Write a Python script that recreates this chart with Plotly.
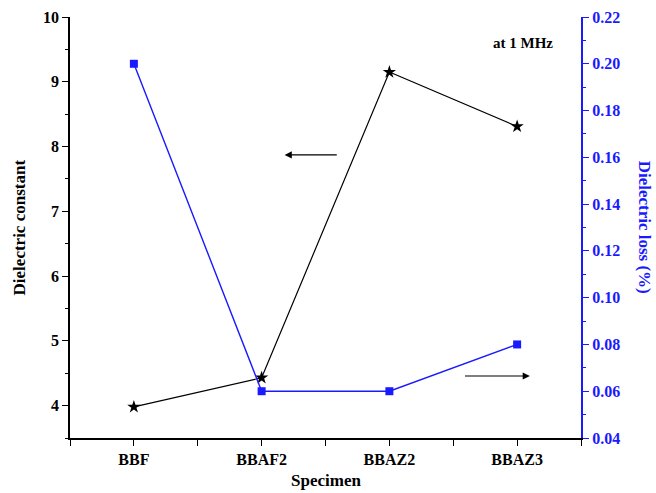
import plotly.graph_objects as go

specimens = ["BBF", "BBAF2", "BBAZ2", "BBAZ3"]
dielectric_constant = [3.98, 4.43, 9.15, 8.31]
dielectric_loss = [0.200, 0.060, 0.060, 0.080]

xpos = list(range(len(specimens)))
FONT = "Liberation Serif"
BLUE = "#1a1aff"

fig = go.Figure()

fig.add_trace(go.Scatter(
    x=xpos, y=dielectric_constant, mode="lines+markers",
    line=dict(color="black", width=1.2),
    marker=dict(symbol="star", size=10, color="black"),
    xaxis="x", yaxis="y", showlegend=False,
))
fig.add_trace(go.Scatter(
    x=xpos, y=dielectric_loss, mode="lines+markers",
    line=dict(color=BLUE, width=1.4),
    marker=dict(symbol="square", size=8, color=BLUE),
    xaxis="x", yaxis="y2", showlegend=False,
))

fig.update_layout(
    width=656, height=493,
    margin=dict(l=70, r=75, t=17, b=55, autoexpand=False),
    paper_bgcolor="white", plot_bgcolor="white",
    font=dict(family=FONT, color="black"),
    xaxis=dict(
        range=[-0.5, 3.5], tickvals=xpos, ticktext=specimens,
        ticks="outside", ticklen=6, tickwidth=1.2, tickcolor="black",
        minor=dict(ticks="outside", ticklen=6, tickwidth=1.2, tickcolor="black",
                   tickvals=[-0.5, 0.5, 1.5, 2.5, 3.5]),
        showline=True, linecolor="black", linewidth=1.5,
        showgrid=False, zeroline=False, automargin=False,
        tickfont=dict(family=FONT, size=16, color="black", weight="bold"),
    ),
    xaxis2=dict(
        overlaying="x", side="top", range=[-0.5, 3.5],
        tickvals=xpos, ticks="inside", ticklen=6, tickwidth=1.2, tickcolor="black",
        minor=dict(ticks="inside", ticklen=4, tickwidth=1.2, tickcolor="black",
                   tickvals=[0.5, 1.5, 2.5]),
        showticklabels=False, showline=True, linecolor="black", linewidth=1.5,
        showgrid=False, zeroline=False, automargin=False,
    ),
    yaxis=dict(
        range=[3.5, 10], tickvals=[4, 5, 6, 7, 8, 9, 10],
        ticks="outside", ticklen=6, tickwidth=1.2, tickcolor="black",
        minor=dict(ticks="outside", ticklen=3, tickwidth=1.2, tickcolor="black", dtick=0.5),
        showline=True, linecolor="black", linewidth=1.5,
        showgrid=False, zeroline=False, automargin=False,
        tickfont=dict(family=FONT, size=16, color="black", weight="bold"),
    ),
    yaxis2=dict(
        overlaying="y", side="right", range=[0.04, 0.22],
        tickvals=[0.04, 0.06, 0.08, 0.10, 0.12, 0.14, 0.16, 0.18, 0.20, 0.22],
        tickformat=".2f",
        ticks="outside", ticklen=6, tickwidth=1.2, tickcolor=BLUE,
        minor=dict(ticks="outside", ticklen=3, tickwidth=1.2, tickcolor=BLUE, dtick=0.01),
        showline=True, linecolor=BLUE, linewidth=2,
        showgrid=False, zeroline=False, automargin=False,
        tickfont=dict(family=FONT, size=16, color=BLUE, weight="bold"),
    ),
)

# axis titles
fig.add_annotation(
    xref="paper", yref="paper", x=0.5, y=-0.101, xanchor="center", yanchor="middle",
    text="<b>Specimen</b>", showarrow=False,
    font=dict(family=FONT, size=17, color="black"),
)
fig.add_annotation(
    xref="paper", yref="paper", x=-0.098, y=0.5, xanchor="center", yanchor="middle",
    text="<b>Dielectric constant</b>", textangle=-90, showarrow=False,
    font=dict(family=FONT, size=17, color="black"),
)
fig.add_annotation(
    xref="paper", yref="paper", x=1.125, y=0.5, xanchor="center", yanchor="middle",
    text="<b>Dielectric loss (%)</b>", textangle=90, showarrow=False,
    font=dict(family=FONT, size=17, color=BLUE),
)

fig.add_annotation(
    xref="paper", yref="paper", x=0.949, y=0.938, xanchor="right", yanchor="middle",
    text="<b>at 1 MHz</b>", showarrow=False,
    font=dict(family=FONT, size=15, color="black"),
)

# arrows pointing to the axis each series belongs to
fig.add_annotation(
    xref="x", yref="y", x=1.18, y=7.87, ax=1.60, ay=7.87,
    axref="x", ayref="y", text="", showarrow=True,
    arrowhead=2, arrowsize=1.2, arrowwidth=1.2, arrowcolor="black",
)
fig.add_annotation(
    xref="x", yref="y2", x=3.10, y=0.0665, ax=2.58, ay=0.0665,
    axref="x", ayref="y2", text="", showarrow=True,
    arrowhead=2, arrowsize=1.2, arrowwidth=1.2, arrowcolor="black",
)

fig.write_html("out.html")
